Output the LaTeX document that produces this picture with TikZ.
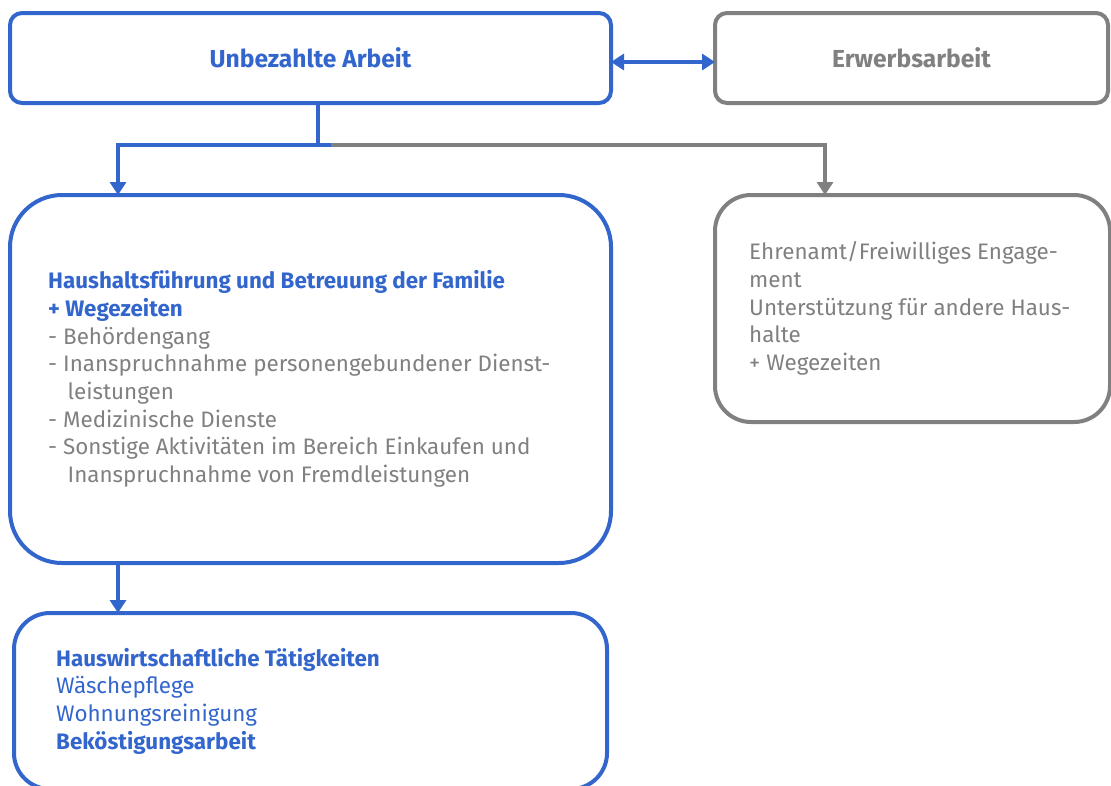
\documentclass[tikz,border=0pt]{standalone}
\usepackage{fontspec}
\setmainfont{Fira Sans}
\usetikzlibrary{arrows.meta}

\definecolor{hblue}{HTML}{3366CC}
\definecolor{hgray}{HTML}{808080}

\tikzset{
		box/.style={draw, line width=4pt, inner sep=0pt, outer sep=0pt},
		bluebox/.style={box, hblue},
		graybox/.style={box, hgray},
		txt/.style={anchor=west, align=left, inner sep=0pt, font=\fontsize{22.4}{27.7}\selectfont},
		title/.style={anchor=center, inner sep=0pt, font=\fontsize{24.6}{28}\selectfont\bfseries},
		arrow/.style={line width=4pt, -{Triangle[width=16pt,length=13pt]}}
	}

\begin{document}
\begin{tikzpicture}[x=1pt,y=-1pt]

\clip (0,0) rectangle (1111,785);
\useasboundingbox (0,0) rectangle (1111,785);

\node (unbez) at (310.5,58) [bluebox,rounded corners=12pt,minimum width=601pt,minimum height=90pt] {};
\node (erwerb) at (911.5,58) [graybox,rounded corners=12pt,minimum width=393pt,minimum height=90pt] {};

\node (haus) at (310.5,379) [bluebox,rounded corners=52pt,minimum width=601pt,minimum height=368pt] {};
\node (ehren) at (912.5,308.5) [graybox,rounded corners=36pt,minimum width=395pt,minimum height=227pt] {};
\node (wirt) at (310.5,701) [bluebox,rounded corners=36pt,minimum width=593pt,minimum height=176pt] {};

% titles
\node (unbezt) at (unbez.center) [title,hblue] {Unbezahlte Arbeit};
\node (erwerbt) at (erwerb.center) [title,hgray] {Erwerbsarbeit};

% box texts
\node (haust) at ([xshift=38]haus.west) [txt,hgray] {%
{\color{hblue}\bfseries Haushaltsführung und Betreuung der Familie}\\
{\color{hblue}\bfseries + Wegezeiten}\\
- Behördengang\\
- Inanspruchnahme personengebundener Dienst-\\
\hphantom{- }\hspace{0.2em}leistungen\\
- Medizinische Dienste\\
- Sonstige Aktivitäten im Bereich Einkaufen und\\
\hphantom{- }\hspace{0.2em}Inanspruchnahme von Fremdleistungen};

\node (ehrent) at ([xshift=34]ehren.west) [txt,hgray] {%
Ehrenamt/Freiwilliges Engage-\\
ment\\
Unterstützung für andere Haus-\\
halte\\
+ Wegezeiten};

\node (wirtt) at ([xshift=42]wirt.west) [txt,hblue] {%
\bfseries Hauswirtschaftliche Tätigkeiten\\
Wäschepflege\\
Wohnungsreinigung\\
\bfseries Beköstigungsarbeit};

% connectors
\coordinate (split) at (331,145);
\draw [hblue,line width=4pt] ([xshift=7.5]unbez.south) |- (split);
\draw [arrow,hblue] (split) -| ([xshift=108]haus.north west);
\draw [arrow,hgray] (split) -| ([xshift=110]ehren.north west);
\draw [arrow,hblue] ([xshift=108]haus.south west) -- ([xshift=104]wirt.north west);
\draw [hblue,line width=4pt,{Triangle[width=16pt,length=13pt]}-{Triangle[width=16pt,length=13pt]}] ([yshift=-4]unbez.east) -- ([yshift=-4]erwerb.west);

\end{tikzpicture}
\end{document}
